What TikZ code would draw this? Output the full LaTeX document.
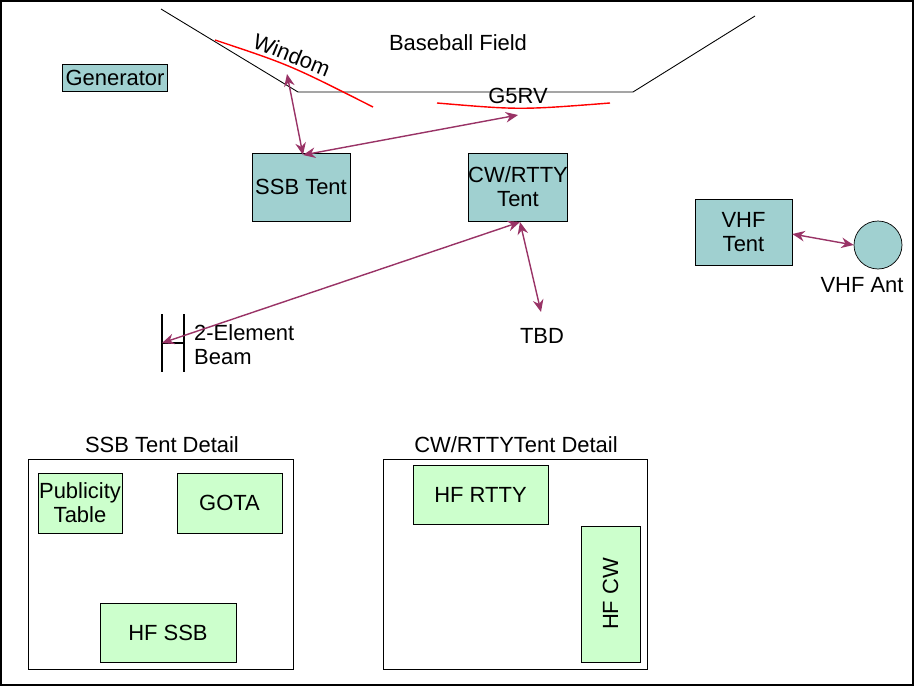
\documentclass[tikz,border=0pt]{standalone}
\usepackage{fontspec}
\setmainfont{Liberation Sans}
\usetikzlibrary{arrows.meta,positioning}
\definecolor{tent}{RGB}{160,208,208}
\definecolor{station}{RGB}{204,255,204}
\definecolor{feed}{RGB}{153,51,102}
\begin{document}
\begin{tikzpicture}[x=0.02cm, y=-0.02cm,
    every node/.style={font=\fontsize{12.5}{13.5}\selectfont},
    tent/.style={rectangle, draw=black, fill=tent, inner sep=0pt, align=center},
    station/.style={rectangle, draw=black, fill=station, inner sep=0pt, align=center},
    frame/.style={draw=black, thin},
    wire/.style={draw=red, thick},
    feedline/.style={draw=feed, thick, {Stealth[length=7pt,width=6pt]}-{Stealth[length=7pt,width=6pt]}}
]
    % page frame
    \useasboundingbox (0,0) rectangle (917,700);
    \draw[line width=1.5pt] (1,1) rectangle (913,685);

    % Baseball field outline
    \draw[black, line width=0.5pt] (161,9) -- (298,92) -- (633,92) -- (755,16);
    \node (field) at (458,43) {Baseball Field};

    % Antennas
    \draw[wire] (215,40) .. controls (290,65) .. (373,107);
    \draw[wire] (437,103) .. controls (520,110) .. (610,103);
    \node[rotate=-22] (windom) at (292,55) {Windom};
    \node (g5rv) at (518,96) {G5RV};
    \coordinate (windomfeed) at (287,74);
    \coordinate (g5rvfeed) at (518,115);

    % Tents
    \node[tent, minimum width=2.1cm, minimum height=0.54cm] (gen) at (115,77.5) {Generator};
    \node[tent, minimum width=1.96cm, minimum height=1.36cm] (ssb) at (301,187) {SSB Tent};
    \node[tent, minimum width=1.96cm, minimum height=1.36cm] (cw) at (518,187) {CW/RTTY\\Tent};
    \node[tent, minimum width=1.94cm, minimum height=1.32cm] (vhf) at (743.5,232) {VHF\\Tent};
    \node[circle, draw=black, fill=tent, minimum size=0.96cm, inner sep=0pt] (vhfant) at (878,245) {};
    \node (vhfantlbl) at (862,285) {VHF Ant};

    % 2-element beam
    \draw[thick] (162,314) -- (162,372);
    \draw[thick] (184,314) -- (184,372);
    \draw[thick] (162,343) coordinate (beam) -- (184,343);
    \node[align=left, anchor=west] (beamlbl) at (188,345) {2-Element\\Beam};
    \node (tbd) at (542,336) {TBD};

    % Feedlines
    \draw[feedline] (windomfeed) -- (303,155);
    \draw[feedline] (303,155) -- (g5rvfeed);
    \draw[feedline] (520,222) -- (541,312);
    \draw[feedline] (520,222) -- (beam);
    \draw[feedline] (vhf.east) ++(0,2) -- (vhfant.west);

    % SSB Tent Detail
    \draw[frame] (28,459) rectangle (293,669);
    \node (ssbdet) at (162,445) {SSB Tent Detail};
    \node[station, minimum width=1.68cm, minimum height=1.2cm] (pub) at (80,503) {Publicity\\Table};
    \node[station, minimum width=2.1cm, minimum height=1.2cm] (gota) at (229.5,503) {GOTA};
    \node[station, minimum width=2.72cm, minimum height=1.18cm] (hfssb) at (168,632.5) {HF SSB};

    % CW/RTTY Tent Detail
    \draw[frame] (383,459) rectangle (647,669);
    \node (cwdet) at (516,445) {CW/RTTYTent Detail};
    \node[station, minimum width=2.7cm, minimum height=1.18cm] (hfrtty) at (480.5,494.5) {HF RTTY};
    \node[station, rotate=90, minimum width=2.72cm, minimum height=1.18cm] (hfcw) at (610.5,594) {HF CW};
\end{tikzpicture}
\end{document}
